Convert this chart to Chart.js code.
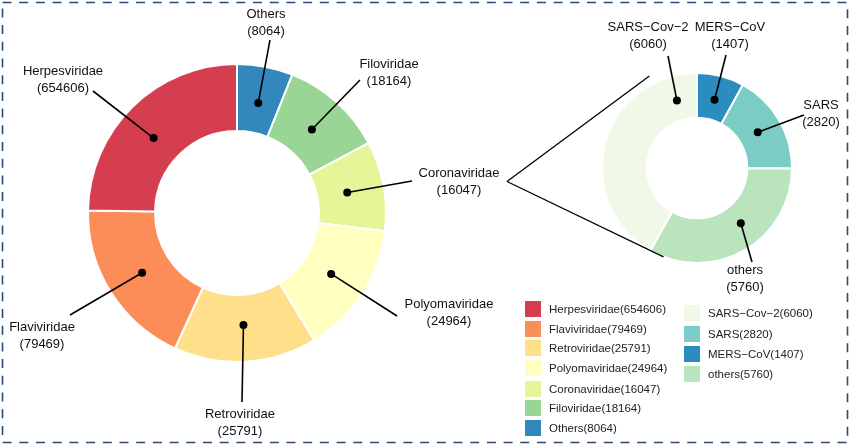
<!DOCTYPE html>
<html>
<head>
<meta charset="utf-8">
<script src="https://cdn.jsdelivr.net/npm/chart.js@4.4.1/dist/chart.umd.min.js"></script>
<style>
  html, body { margin: 0; padding: 0; background: #fff; }
  #wrap { position: relative; width: 850px; height: 445px; overflow: hidden; font-family: "Liberation Sans", Arial, sans-serif; }
  canvas { position: absolute; left: 0; top: 0; }
  .lg { position: absolute; font-size: 11.5px; color: #222; white-space: nowrap; }
  .lg span { position: absolute; width: 16px; height: 16px; left: 0; top: -8px; }
  .lg b { position: absolute; font-weight: normal; left: 24px; top: -7px; line-height: 14px; }
</style>
</head>
<body>
<div id="wrap">
  <canvas id="leftChart" width="850" height="445"></canvas>
  <canvas id="rightChart" width="850" height="445"></canvas>
</div>
<script>
// Virus families (legend order)
const familyNames = ['Herpesviridae', 'Flaviviridae', 'Retroviridae', 'Polyomaviridae', 'Coronaviridae', 'Filoviridae', 'Others'];
const familyCounts = [654606, 79469, 25791, 24964, 16047, 18164, 8064];
// slice sizes as drawn in the picture (degrees of the ring)
const familySlice = [89, 66.4, 55.8, 51.8, 35, 40.2, 21.8];
const familyColors = ['#D53E4F', '#FC8D59', '#FEE08B', '#FFFFBF', '#E6F598', '#99D594', '#3288BD'];

// Coronaviridae breakdown (legend order)
const coronaNames = ['SARS\u2212Cov\u22122', 'SARS', 'MERS\u2212CoV', 'others'];
const coronaCounts = [6060, 2820, 1407, 5760];
const coronaSlice = [150.5, 61.4, 28.9, 119.2];
const coronaColors = ['#F0F9E8', '#7BCCC4', '#2B8CBE', '#BAE4BC'];

// clockwise drawing order starting at 12 o'clock
const familyOrder = [6, 5, 4, 3, 2, 1, 0];
const coronaOrder = [2, 1, 3, 0];

// label layout: [text x, first line y, leader end x, leader end y, dot position inside slice]
const familyLabelPos = {
    'Herpesviridae': [63, 71, 93, 91, 0.46],
    'Flaviviridae': [42, 327, 70, 315, 0.5],
    'Retroviridae': [240, 414, 242, 402, 0.5],
    'Polyomaviridae': [449, 304, 397, 316, 0.5],
    'Coronaviridae': [459, 173, 412, 181, 0.5],
    'Filoviridae': [389, 64, 360, 80, 0.5],
    'Others': [266, 14, 270, 40, 0.5]
};
const coronaLabelPos = {
    'SARS\u2212Cov\u22122': [648, 27, 668, 56, 0.89],
    'SARS': [821, 105, 804, 115, 0.5],
    'MERS\u2212CoV': [730, 27, 726, 55, 0.5],
    'others': [745, 270, 752, 262, 0.43]
};

function toRad(deg) { return (deg - 90) * Math.PI / 180; }

function leaderLabels(names, counts, layout) {
    return {
        id: 'leaderLabels',
        afterDatasetsDraw(chart) {
            const ctx = chart.ctx;
            const arcs = chart.getDatasetMeta(0).data;
            ctx.save();
            arcs.forEach((arc, i) => {
                const name = chart.data.labels[i];
                const p = layout[name];
                const a = arc.getProps(['x', 'y', 'startAngle', 'endAngle', 'innerRadius', 'outerRadius'], true);
                const ang = a.startAngle + p[4] * (a.endAngle - a.startAngle);
                const r = a.innerRadius + 0.45 * (a.outerRadius - a.innerRadius);
                const dx = a.x + r * Math.cos(ang);
                const dy = a.y + r * Math.sin(ang);
                ctx.strokeStyle = '#000';
                ctx.lineWidth = 1.6;
                ctx.beginPath();
                ctx.moveTo(dx, dy);
                ctx.lineTo(p[2], p[3]);
                ctx.stroke();
                ctx.fillStyle = '#000';
                ctx.beginPath();
                ctx.arc(dx, dy, 4, 0, Math.PI * 2);
                ctx.fill();
                ctx.font = '13px "Liberation Sans", Arial, sans-serif';
                ctx.textAlign = 'center';
                ctx.textBaseline = 'middle';
                ctx.fillStyle = '#111';
                ctx.fillText(name, p[0], p[1]);
                ctx.fillText('(' + chart.data.datasets[0].counts[i] + ')', p[0], p[1] + 17.5);
            });
            ctx.restore();
        }
    };
}

const frameBorder = {
    id: 'frameBorder',
    beforeDraw(chart) {
        const ctx = chart.ctx;
        ctx.save();
        ctx.strokeStyle = '#2B4A70';
        ctx.lineWidth = 1.6;
        ctx.setLineDash([9, 7.7]);
        ctx.strokeRect(2.5, 2.5, 845, 440);
        ctx.restore();
    }
};

// zoom lines from the Coronaviridae label to the small ring
const zoomLines = {
    id: 'zoomLines',
    afterDatasetsDraw(chart) {
        const ctx = chart.ctx;
        const a = chart.getDatasetMeta(0).data[0].getProps(['x', 'y', 'outerRadius'], true);
        const from = [507, 181.5];
        const ends = [[332.6, 1.09], [200.6, 1.0]];
        ctx.save();
        ctx.strokeStyle = '#000';
        ctx.lineWidth = 1.3;
        ends.forEach(e => {
            ctx.beginPath();
            ctx.moveTo(from[0], from[1]);
            ctx.lineTo(a.x + a.outerRadius * e[1] * Math.cos(toRad(e[0])), a.y + a.outerRadius * e[1] * Math.sin(toRad(e[0])));
            ctx.stroke();
        });
        ctx.restore();
    }
};

function makeDoughnut(id, names, counts, slices, colors, order, cutout, padding, plugins) {
    return new Chart(document.getElementById(id), {
        type: 'doughnut',
        data: {
            labels: order.map(i => names[i]),
            datasets: [{
                data: order.map(i => slices[i]),
                counts: order.map(i => counts[i]),
                backgroundColor: order.map(i => colors[i]),
                borderColor: '#fff',
                borderWidth: 2
            }]
        },
        options: {
            responsive: false,
            animation: false,
            cutout: cutout,
            layout: { padding: padding },
            plugins: { legend: { display: false }, tooltip: { enabled: false } }
        },
        plugins: plugins
    });
}

makeDoughnut('leftChart', familyNames, familyCounts, familySlice, familyColors, familyOrder, '55%',
    { left: 87, right: 463, top: 63, bottom: 82 },
    [frameBorder, leaderLabels(familyNames, familyCounts, familyLabelPos)]);

makeDoughnut('rightChart', coronaNames, coronaCounts, coronaSlice, coronaColors, coronaOrder, '53%',
    { left: 601, right: 57, top: 72, bottom: 181 },
    [zoomLines, leaderLabels(coronaNames, coronaCounts, coronaLabelPos)]);

// legends
const wrap = document.getElementById('wrap');
function addLegend(names, counts, colors, x, ys) {
    names.forEach((n, i) => {
        const d = document.createElement('div');
        d.className = 'lg';
        d.style.left = x + 'px';
        d.style.top = ys[i] + 'px';
        d.innerHTML = '<span style="background:' + colors[i] + '"></span><b>' + n + '(' + counts[i] + ')</b>';
        wrap.appendChild(d);
    });
}
addLegend(familyNames, familyCounts, familyColors, 525, [309, 328.5, 347.5, 367.5, 389, 408, 428]);
addLegend(coronaNames, coronaCounts, coronaColors, 684, [313, 334, 354, 374]);
</script>
</body>
</html>
